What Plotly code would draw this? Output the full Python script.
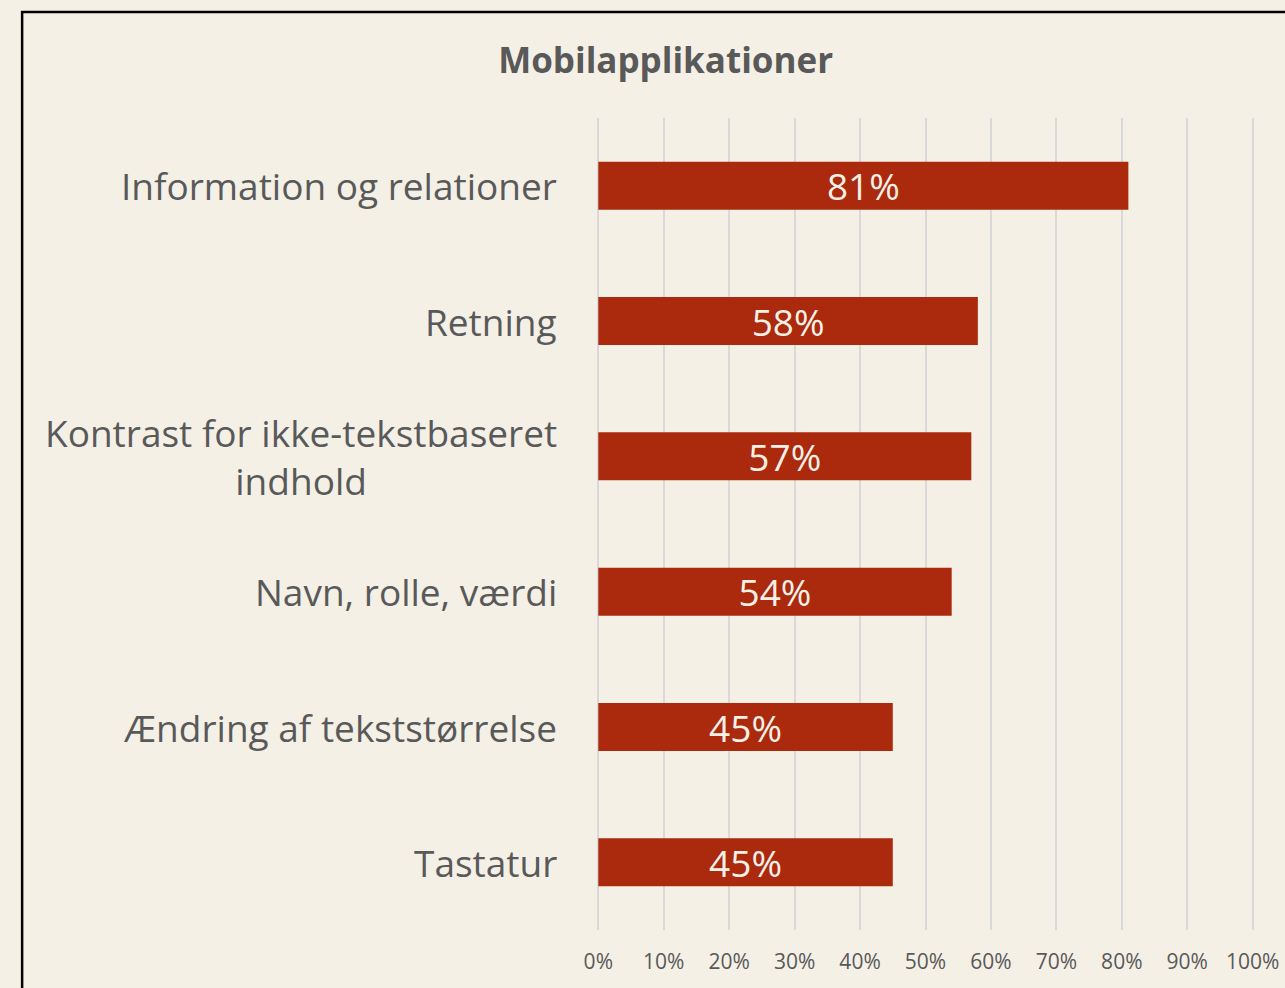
import plotly.graph_objects as go

kategorier = ["Information og relationer", "Retning",
              "Kontrast for ikke-tekstbaseret<br>indhold",
              "Navn, rolle, værdi", "Ændring af tekststørrelse", "Tastatur"]
andele = [81, 58, 57, 54, 45, 45]
tick_vals = [0, 10, 20, 30, 40, 50, 60, 70, 80, 90, 100]
tick_tekst = [f"{v}%" for v in tick_vals]

BG = "#F4F0E6"
ROED = "#AB290C"
GRAA = "#595959"
FONT = "Open Sans, sans-serif"

fig = go.Figure(go.Bar(
    y=kategorier, x=andele, orientation="h",
    marker=dict(color=ROED, line=dict(width=0)),
    text=[f"{v}%" for v in andele], textposition="inside",
    insidetextanchor="middle", constraintext="none",
    textfont=dict(color=BG, size=37, family=FONT),
    width=0.355,
))

# kategori-etiketter som annotationer, så flerlinjet tekst centreres
for k in kategorier:
    fig.add_annotation(x=0, xref="paper", y=k, yref="y", text=k,
                       showarrow=False, xanchor="right", align="center",
                       xshift=-38, font=dict(size=37, color=GRAA, family=FONT))

# ramme om diagrammet
fig.add_shape(type="rect", xref="paper", yref="paper",
              x0=-0.875, x1=1.2, y0=-0.3, y1=1.1305,
              line=dict(color="black", width=2.5), layer="below")

fig.update_layout(
    title=dict(text="<b>Mobilapplikationer</b>", x=0.518, xref="container",
               y=0.939, yref="container", xanchor="center", yanchor="middle",
               font=dict(size=35, color=GRAA, family=FONT)),
    paper_bgcolor=BG, plot_bgcolor=BG,
    width=1285, height=988,
    margin=dict(l=597, r=31, t=118, b=58),
    showlegend=False,
    xaxis=dict(range=[-0.2, 100.2], tickvals=tick_vals, ticktext=tick_tekst,
               showgrid=True, gridcolor="#D9D9D9", gridwidth=1.5,
               zeroline=False, showline=False, automargin=False,
               tickfont=dict(size=21, color=GRAA, family=FONT), ticklen=13,
               ticks="outside", tickcolor=BG),
    yaxis=dict(autorange="reversed", showticklabels=False, showgrid=False,
               zeroline=False, showline=False, automargin=False),
)

fig.write_html("out.html", config={"displayModeBar": False}, post_script=(
    "document.body.style.margin='0';"
    f"document.body.style.background='{BG}';"))
